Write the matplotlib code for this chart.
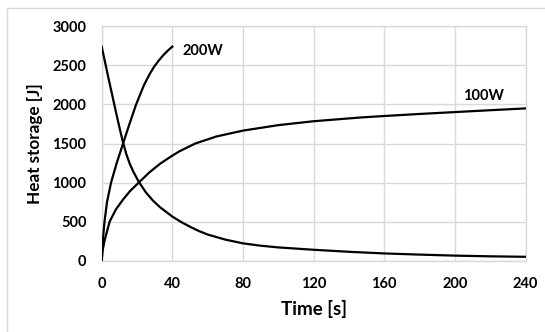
import matplotlib
matplotlib.use("Agg")
import matplotlib.pyplot as plt
from matplotlib.patches import Rectangle

# Data
t_decay = [0, 4, 8, 10, 12, 14, 16, 18, 21, 25, 29, 33, 40, 45, 50, 55, 60, 70, 80, 90, 100, 120, 140, 160, 180, 200, 220, 240]
v_decay = [2740, 2320, 1910, 1710, 1520, 1360, 1235, 1135, 1010, 875, 770, 685, 565, 495, 435, 380, 335, 270, 222, 192, 170, 140, 114, 93, 78, 65, 56, 50]

t_200w = [0, 0.6, 1.6, 3.0, 5.3, 8.5, 12.1, 15.8, 19.5, 22, 24, 27, 29.5, 32, 35, 37.5, 40]
v_200w = [0, 250, 500, 750, 1000, 1250, 1500, 1755, 2000, 2140, 2250, 2382, 2476, 2553, 2633, 2690, 2740]

t_100w = [0, 0.5, 1.7, 4.5, 8, 12, 16, 21, 27, 33, 40, 44, 53, 65, 80, 100, 120, 146, 160, 180, 200, 220, 240]
v_100w = [0, 130, 265, 500, 655, 780, 890, 1000, 1130, 1240, 1345, 1400, 1500, 1590, 1665, 1735, 1785, 1832, 1852, 1878, 1902, 1926, 1949]

x_ticks = [0, 40, 80, 120, 160, 200, 240]
y_ticks = [0, 500, 1000, 1500, 2000, 2500, 3000]

labels = ["200W", "100W"]
label_pos = [(45.5, 2690), (204.7, 2103)]

plt.rcParams['font.family'] = ['Lato', 'DejaVu Sans']

W, H = 545, 332
fig = plt.figure(figsize=(W / 100, H / 100), dpi=100)
fig.patch.set_facecolor('white')

# outer chart border
fig.patches.append(Rectangle((7 / W, -0.1), 1.2, 1 - 8 / H + 0.1, transform=fig.transFigure,
                             fill=False, edgecolor='#d9d9d9', linewidth=1.0))

left, right = 101.7 / W, 525.5 / W
bottom, top = 1 - 260.7 / H, 1 - 26.3 / H
ax = fig.add_axes([left, bottom, right - left, top - bottom])

grid_c = '#d9d9d9'
for tt, vv in [(t_decay, v_decay), (t_200w, v_200w), (t_100w, v_100w)]:
    ax.plot(tt, vv, color='black', lw=1.6, zorder=3, solid_joinstyle='round')

ax.set_xlim(0, 240)
ax.set_ylim(0, 3000)
ax.set_xticks(x_ticks)
ax.set_yticks(y_ticks)
ax.grid(True, color=grid_c, lw=1.0)
ax.set_axisbelow(True)
for s in ax.spines.values():
    s.set_color(grid_c)
    s.set_linewidth(1.0)
ax.tick_params(length=0, labelsize=10.5)
ax.tick_params(axis='x', pad=12)
ax.tick_params(axis='y', pad=11)
for lab in ax.get_xticklabels() + ax.get_yticklabels():
    lab.set_fontweight('bold')

ax.set_xlabel('Time [s]', fontsize=13.5, fontweight='bold', labelpad=6)
ax.set_ylabel('Heat storage [J]', fontsize=12.3, fontweight='bold', labelpad=7)

for txt, (x, y) in zip(labels, label_pos):
    ax.text(x, y, txt, fontsize=10.5, fontweight='bold', ha='left', va='center')

fig.savefig('out.png', dpi=100)
